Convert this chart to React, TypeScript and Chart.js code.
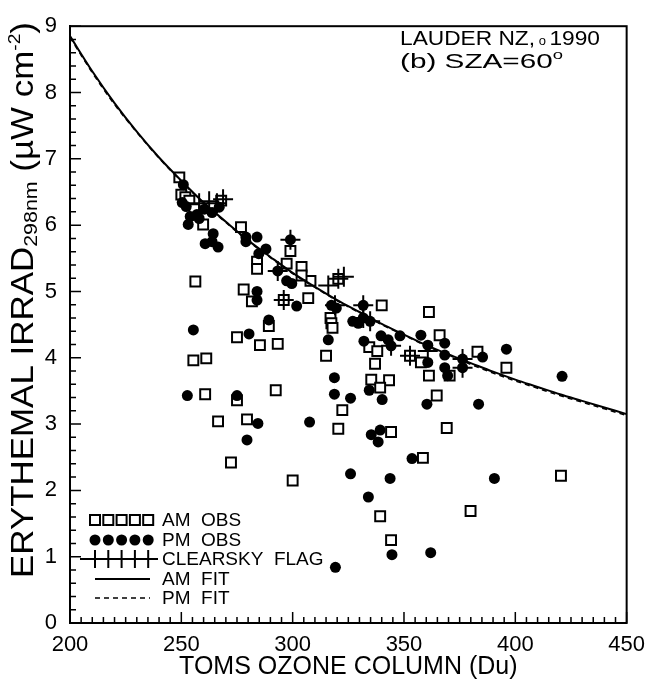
import React, { useEffect, useRef } from "react";
import { Chart, registerables } from "chart.js";

Chart.register(...registerables);

const FONT = "'Liberation Sans', Arial, Helvetica, sans-serif";

// Axis tick values
const xTickValues = [200, 250, 300, 350, 400, 450];
const yTickValues = [0, 1, 2, 3, 4, 5, 6, 7, 8, 9];

// Fit curves
const fitOzone = [200, 210, 220, 230, 240, 250, 260, 270, 280, 290, 300, 310, 320, 330, 340, 350, 360, 370, 380, 390, 400, 410, 420, 430, 440, 450];
const amFitIrrad = [8.85, 8.32, 7.84, 7.41, 7.02, 6.67, 6.34, 6.05, 5.77, 5.52, 5.28, 5.07, 4.87, 4.69, 4.51, 4.35, 4.19, 4.05, 3.92, 3.79, 3.67, 3.56, 3.45, 3.35, 3.25, 3.15];
const pmFitIrrad = [8.83, 8.30, 7.82, 7.40, 7.01, 6.66, 6.33, 6.04, 5.76, 5.51, 5.27, 5.06, 4.86, 4.68, 4.50, 4.34, 4.18, 4.04, 3.90, 3.77, 3.65, 3.54, 3.43, 3.33, 3.23, 3.13];

// AM observations
const amOzone = [249.1, 250, 251.8, 253.6, 255.8, 259.8, 267.9, 256.3, 255.4, 261.2, 260.7, 266.5, 272.3, 275, 275, 276.8, 284, 284, 299, 297.3, 304, 308, 304, 278, 281.7, 296, 307, 289.3, 285.3, 293.3, 292.4, 279.5, 300, 320.5, 317, 317.4, 317.9, 315, 340, 334.4, 338, 337, 322.3, 320.5, 335.3, 343.3, 339.3, 344.2, 339.3, 344.2, 358.5, 369.2, 420.5, 379.9, 352.7, 357.6, 366, 361.2, 370.5, 361.2, 383, 396, 364.7];
const amIrrad = [6.72, 6.46, 6.42, 6.37, 6.24, 6.01, 6.37, 5.15, 3.96, 3.99, 3.45, 3.04, 2.42, 4.31, 3.36, 5.97, 5.45, 5.34, 5.61, 5.42, 5.37, 5.16, 5.24, 5.03, 4.85, 4.87, 4.90, 4.48, 4.19, 4.21, 3.51, 3.07, 2.15, 5.19, 4.60, 4.52, 4.45, 4.03, 4.79, 4.16, 4.10, 3.91, 3.21, 2.93, 3.67, 3.66, 3.55, 2.88, 1.61, 1.25, 2.49, 2.94, 2.22, 1.69, 4.03, 3.93, 4.34, 4.69, 3.73, 3.73, 4.09, 3.85, 3.43];

// PM observations
const pmOzone = [250.9, 250.4, 252.2, 254, 253.1, 257, 258, 260.3, 263.8, 267, 260.7, 263.8, 266.5, 264.3, 279, 284, 279, 299, 288, 284.8, 293.3, 297.3, 299.6, 284, 284, 301.8, 289.3, 255.4, 252.7, 275, 280.4, 284.4, 279.5, 307.6, 317.4, 319.6, 331.7, 331.7, 334.8, 329.5, 327, 316, 332, 318.75, 318.75, 326, 334.4, 340.2, 335.3, 339.3, 338.4, 326, 334, 344.6, 319.2, 343.75, 353.6, 362, 360.3, 383.5, 390.6, 339.7, 342.9, 348.2, 344.2, 357.6, 360.7, 360.7, 368.3, 368.3, 368.3, 369.6, 376.3, 376.3, 385.3, 396, 421];
const pmIrrad = [6.61, 6.34, 6.28, 6.13, 6.01, 6.16, 6.10, 6.24, 6.19, 6.27, 5.72, 5.75, 5.67, 5.87, 5.82, 5.82, 5.75, 5.78, 5.64, 5.57, 5.31, 5.16, 5.12, 5.00, 4.87, 4.78, 4.57, 4.42, 3.43, 3.43, 4.36, 3.01, 2.76, 3.03, 4.79, 4.75, 4.79, 4.60, 4.55, 4.52, 4.55, 4.27, 4.25, 3.70, 3.45, 3.39, 3.51, 3.37, 2.84, 2.91, 2.73, 2.25, 1.90, 1.03, 0.84, 2.18, 2.48, 1.06, 3.30, 3.30, 2.18, 4.33, 4.27, 4.33, 4.18, 4.34, 4.19, 3.93, 4.22, 4.04, 3.85, 3.73, 3.98, 3.85, 4.01, 4.13, 3.72];

// Clear-sky flagged observations
const flagOzone = [258, 262.5, 266, 268.75, 299, 293.3, 296, 316, 320.5, 323, 319, 331.7, 331.7, 334.8, 344.2, 352.7, 360.7, 376.3, 376.3];
const flagIrrad = [6.33, 6.36, 6.33, 6.39, 5.78, 5.31, 4.87, 5.09, 5.19, 5.22, 4.79, 4.79, 4.60, 4.55, 4.18, 4.03, 4.10, 3.98, 3.85];

const legendLabels = ["AM  OBS", "PM  OBS", "CLEARSKY  FLAG", "AM  FIT", "PM  FIT"];

const pts = (xs: number[], ys: number[]) => xs.map((x, i) => ({ x, y: ys[i] }));

type Part = { t: string; size: number; dy: number };

function drawParts(ctx: CanvasRenderingContext2D, parts: Part[], target: number | null) {
  let total = 0;
  const widths = parts.map((p) => {
    ctx.font = `${p.size}px ${FONT}`;
    const w = ctx.measureText(p.t).width;
    total += w;
    return w;
  });
  const sx = target ? target / total : 1;
  ctx.save();
  ctx.scale(sx, 1);
  let x = 0;
  parts.forEach((p, i) => {
    ctx.font = `${p.size}px ${FONT}`;
    ctx.fillText(p.t, x, p.dy);
    x += widths[i];
  });
  ctx.restore();
  return total * sx;
}

const overlay = {
  id: "overlay",
  afterDraw(chart: any) {
    const { ctx, chartArea: a, scales } = chart;
    const xs = scales.x;
    const ys = scales.y;
    ctx.save();
    ctx.strokeStyle = "#000";
    ctx.fillStyle = "#000";
    ctx.lineWidth = 2;
    ctx.setLineDash([]);
    ctx.strokeRect(a.left, a.top, a.right - a.left, a.bottom - a.top);

    // inward ticks
    ctx.lineWidth = 1.5;
    ctx.beginPath();
    for (let i = 0; i <= 50; i++) {
      const v = 200 + i * 5;
      const x = xs.getPixelForValue(v);
      const len = i % 10 === 0 ? 11 : 6;
      ctx.moveTo(x, a.bottom);
      ctx.lineTo(x, a.bottom - len);
    }
    for (let i = 0; i <= 45; i++) {
      const y = ys.getPixelForValue(i * 0.2);
      const len = i % 5 === 0 ? 11 : 6;
      ctx.moveTo(a.left, y);
      ctx.lineTo(a.left + len, y);
    }
    ctx.stroke();

    // legend
    const lx0 = 95;
    const lstep = 13.3;
    const rows = [520, 540, 559, 579, 598];
    ctx.lineWidth = 2;
    for (let k = 0; k < 5; k++) {
      const cx = lx0 + k * lstep;
      ctx.fillStyle = "#fff";
      ctx.fillRect(cx - 5, rows[0] - 5, 10, 10);
      ctx.strokeRect(cx - 5, rows[0] - 5, 10, 10);
      ctx.fillStyle = "#000";
      ctx.beginPath();
      ctx.arc(cx, rows[1], 5.5, 0, Math.PI * 2);
      ctx.fill();
    }
    ctx.beginPath();
    ctx.moveTo(a.left + 10, rows[2]);
    ctx.lineTo(158, rows[2]);
    for (let k = 0; k < 5; k++) {
      const cx = lx0 + k * lstep;
      ctx.moveTo(cx, rows[2] - 9);
      ctx.lineTo(cx, rows[2] + 9);
    }
    ctx.stroke();
    ctx.beginPath();
    ctx.moveTo(95, rows[3]);
    ctx.lineTo(150, rows[3]);
    ctx.stroke();
    ctx.lineWidth = 1.5;
    ctx.setLineDash([5, 4]);
    ctx.beginPath();
    ctx.moveTo(95, rows[4]);
    ctx.lineTo(150, rows[4]);
    ctx.stroke();
    ctx.setLineDash([]);

    ctx.fillStyle = "#000";
    ctx.textAlign = "left";
    ctx.textBaseline = "middle";
    ctx.font = `19px ${FONT}`;
    legendLabels.forEach((t, i) => ctx.fillText(t, 162, rows[i] + 1));

    // annotation
    ctx.textBaseline = "alphabetic";
    ctx.save();
    ctx.translate(400, 45);
    drawParts(ctx, [
      { t: "LAUDER NZ,", size: 21, dy: 0 },
      { t: " o ", size: 12, dy: 0 },
      { t: "1990", size: 21, dy: 0 },
    ], 200);
    ctx.restore();
    ctx.save();
    ctx.translate(400, 68);
    drawParts(ctx, [
      { t: "(b) SZA=60", size: 21, dy: 0 },
      { t: "o", size: 13, dy: -9 },
    ], 163);
    ctx.restore();

    // x title
    ctx.save();
    ctx.font = `25px ${FONT}`;
    const xt = "TOMS OZONE COLUMN (Du)";
    const xw = ctx.measureText(xt).width;
    ctx.translate((a.left + a.right) / 2 - xw / 2, 674);
    drawParts(ctx, [{ t: xt, size: 25, dy: 0 }], null);
    ctx.restore();

    // y title
    ctx.save();
    ctx.translate(22, 578);
    ctx.rotate(-Math.PI / 2);
    drawParts(ctx, [
      { t: "ERYTHEMAL IRRAD", size: 31, dy: 11 },
      { t: "298nm", size: 19, dy: 15 },
      { t: " (\u00b5W cm", size: 31, dy: 11 },
      { t: "-2", size: 17, dy: -2 },
      { t: ")", size: 31, dy: 11 },
    ], 556);
    ctx.restore();

    ctx.restore();
  },
};

export default function App() {
  const ref = useRef<HTMLCanvasElement | null>(null);

  useEffect(() => {
    if (!ref.current) return;
    const chart = new Chart(ref.current, {
      type: "scatter",
      data: {
        datasets: [
          {
            label: "AM FIT",
            data: pts(fitOzone, amFitIrrad),
            showLine: true,
            pointRadius: 0,
            borderColor: "#000",
            borderWidth: 2,
            cubicInterpolationMode: "monotone",
            order: 0,
          },
          {
            label: "PM FIT",
            data: pts(fitOzone, pmFitIrrad),
            showLine: true,
            pointRadius: 0,
            borderColor: "#000",
            borderWidth: 1.5,
            borderDash: [5, 4],
            cubicInterpolationMode: "monotone",
            order: 0,
          },
          {
            label: "AM OBS",
            data: pts(amOzone, amIrrad),
            pointStyle: "rect",
            pointRadius: 7,
            borderColor: "#000",
            backgroundColor: "#fff",
            borderWidth: 2,
            order: 3,
          },
          {
            label: "PM OBS",
            data: pts(pmOzone, pmIrrad),
            pointStyle: "circle",
            pointRadius: 5.5,
            borderColor: "#000",
            backgroundColor: "#000",
            borderWidth: 0,
            order: 2,
          },
          {
            label: "CLEARSKY FLAG",
            data: pts(flagOzone, flagIrrad),
            pointStyle: "cross",
            pointRadius: 10,
            borderColor: "#000",
            borderWidth: 2,
            order: 1,
          },
        ],
      },
      options: {
        animation: false,
        responsive: false,
        maintainAspectRatio: false,
        layout: { padding: { top: 20, right: 24, left: 0, bottom: 0 } },
        plugins: {
          legend: { display: false },
          tooltip: { enabled: false },
          title: { display: false },
        },
        scales: {
          x: {
            type: "linear",
            min: 200,
            max: 450,
            afterBuildTicks: (s: any) => {
              s.ticks = xTickValues.map((v) => ({ value: v }));
            },
            afterFit: (s: any) => {
              s.height = 64;
            },
            grid: { display: false, drawTicks: false },
            border: { display: true, color: "#000", width: 2 },
            ticks: {
              color: "#000",
              font: { size: 22, family: FONT },
              padding: 9,
              maxRotation: 0,
              autoSkip: false,
            },
          },
          y: {
            type: "linear",
            min: 0,
            max: 9,
            afterBuildTicks: (s: any) => {
              s.ticks = yTickValues.map((v) => ({ value: v }));
            },
            afterFit: (s: any) => {
              s.width = 70;
            },
            grid: { display: false, drawTicks: false },
            border: { display: true, color: "#000", width: 2 },
            ticks: {
              color: "#000",
              font: { size: 22, family: FONT },
              padding: 13,
              autoSkip: false,
            },
          },
        },
      },
      plugins: [overlay],
    } as any);
    return () => chart.destroy();
  }, []);

  return (
    <div style={{ position: "absolute", left: 0, top: 0, width: 654, height: 687, background: "#fff" }}>
      <canvas ref={ref} width={654} height={687} style={{ display: "block", width: 654, height: 687 }} />
    </div>
  );
}
